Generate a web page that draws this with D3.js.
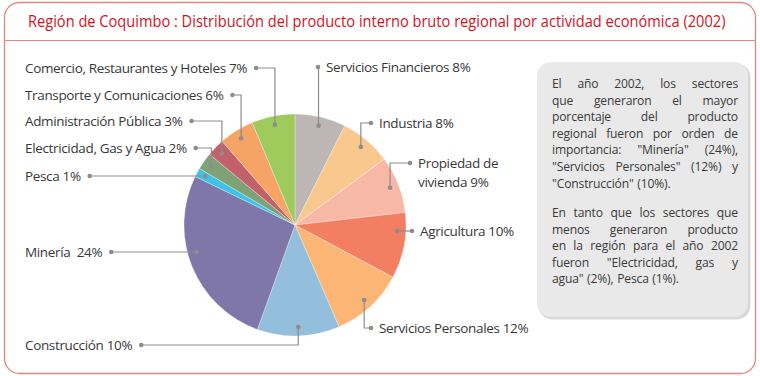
<!DOCTYPE html>
<html>
<head>
<meta charset="utf-8">
<script src="https://cdn.jsdelivr.net/npm/d3@7/dist/d3.min.js"></script>
<style>
  html, body { margin: 0; padding: 0; background: #fff; }
  svg text { font-family: "Open Sans", "Noto Sans", sans-serif; }
</style>
</head>
<body>
<svg id="chart" width="760" height="376"></svg>
<script>
// Sektoren im Uhrzeigersinn ab 12 Uhr
const sectors = [
  "Servicios Financieros", "Industria", "Propiedad de vivienda", "Agricultura",
  "Servicios Personales", "Construcción", "Minería", "Pesca",
  "Electricidad, Gas y Agua", "Administración Pública",
  "Transporte y Comunicaciones", "Comercio, Restaurantes y Hoteles"
];
// Anteile (Winkel der Sektoren)
const shares = [7.4, 7.5, 8.3, 9.6, 10.7, 12.0, 26.7, 1.3, 2.5, 2.6, 5.1, 6.3];
// Beschriftungen wie im Original
const labelLines = [
  ["Servicios Financieros 8%"], ["Industria 8%"], ["Propiedad de", "vivienda 9%"],
  ["Agricultura 10%"], ["Servicios Personales 12%"], ["Construcción 10%"],
  ["Minería  24%"], ["Pesca 1%"], ["Electricidad, Gas y Agua 2%"],
  ["Administración Pública 3%"], ["Transporte y Comunicaciones 6%"],
  ["Comercio, Restaurantes y Hoteles 7%"]
];
const colors = ["#bdb6b4", "#f9c88f", "#f8b8a6", "#f27f61", "#fbb676", "#93bfdc",
                "#7f76a9", "#3ec2ea", "#7ea276", "#c2606c", "#f6a465", "#9ecb5c"];

const titleText = "Región de Coquimbo : Distribución del producto interno bruto regional por actividad económica (2002)";
const noteParas = [
  ["El año 2002, los sectores", "que generaron el mayor", "porcentaje del producto",
   "regional fueron por orden de", "importancia: \"Minería\" (24%),",
   "\"Servicios Personales\" (12%) y", "\"Construcción\" (10%)."],
  ["En tanto que los sectores que", "menos generaron producto",
   "en la región para el año 2002", "fueron \"Electricidad, gas y",
   "agua\" (2%), Pesca (1%)."]
];

// Lage der Beschriftungen: Seite, Textposition, Art der Führungslinie
const labelLayout = [
  { side: "r", x: 326, y: 67,  mode: "v" },
  { side: "r", x: 379, y: 123, mode: "v" },
  { side: "r", x: 418, y: 163, mode: "v" },
  { side: "r", x: 420, y: 231, mode: "h" },
  { side: "r", x: 379, y: 328, mode: "v" },
  { side: "l", x: 25,  y: 345, mode: "v" },
  { side: "l", x: 25,  y: 252, mode: "h" },
  { side: "l", x: 25,  y: 176, mode: "h" },
  { side: "l", x: 25,  y: 148, mode: "v" },
  { side: "l", x: 25,  y: 121, mode: "v" },
  { side: "l", x: 25,  y: 95,  mode: "v" },
  { side: "l", x: 25,  y: 68,  mode: "v" }
];

const svg = d3.select("#chart");
const frameColor = "#e2857b";

// Rahmen
svg.append("rect")
  .attr("x", 4.5).attr("y", 2.5).attr("width", 751).attr("height", 371)
  .attr("rx", 15).attr("fill", "#fff")
  .attr("stroke", frameColor).attr("stroke-width", 1.3);
svg.append("line")
  .attr("x1", 5).attr("x2", 755).attr("y1", 40.5).attr("y2", 40.5)
  .attr("stroke", frameColor).attr("stroke-width", 1.2);

// Titel: schmal gestaucht wie im Original
const title = svg.append("text")
  .attr("x", 0).attr("y", 0)
  .attr("dominant-baseline", "central")
  .attr("font-size", 16.5)
  .attr("fill", "#d3121c")
  .text(titleText);
const tw = title.node().getComputedTextLength();
title.attr("transform", `translate(28,21) scale(${698 / tw},1)`);

// Kreisdiagramm
const cx = 295, cy = 225, r = 111;
const pie = d3.pie().sort(null).value(d => d)(shares);
const arc = d3.arc().innerRadius(0).outerRadius(r);

const g = svg.append("g").attr("transform", `translate(${cx},${cy})`);
g.selectAll("path")
  .data(pie)
  .enter()
  .append("path")
  .attr("d", arc)
  .attr("fill", (d, i) => colors[i])
  .attr("stroke", "#fff")
  .attr("stroke-opacity", 0.5)
  .attr("stroke-width", 0.6);

// Beschriftungen mit Führungslinien
const dotR = 0.92 * r;
const lab = svg.append("g");
pie.forEach((d, i) => {
  const L = labelLayout[i];
  const lineH = 19;
  const t = lab.append("text")
    .attr("x", L.x).attr("y", L.y)
    .attr("font-size", 13.5)
    .attr("letter-spacing", -0.35)
    .attr("fill", "#383838")
    .attr("dominant-baseline", "central")
    .style("white-space", "pre");
  labelLines[i].forEach((s, k) => {
    t.append("tspan").attr("x", L.x).attr("y", L.y + k * lineH).text(s);
  });
  // Punkt im Sektor
  let sx, sy;
  if (L.mode === "v") {
    const a = (d.startAngle + d.endAngle) / 2;
    sx = cx + dotR * Math.sin(a);
    sy = cy - dotR * Math.cos(a);
  } else {
    sy = L.y;
    const dx = Math.sqrt(dotR * dotR - (sy - cy) * (sy - cy));
    sx = L.side === "l" ? cx - dx : cx + dx;
  }
  // Punkt neben dem Text
  let tx;
  if (L.side === "l") {
    tx = L.x + t.node().getComputedTextLength() + 9;
  } else {
    tx = L.x - 8;
  }
  lab.append("path")
    .attr("d", `M${tx},${L.y}H${sx}V${sy}`)
    .attr("fill", "none")
    .attr("stroke", "#8d8d8d")
    .attr("stroke-width", 1.2);
  [[tx, L.y], [sx, sy]].forEach(p => {
    lab.append("circle")
      .attr("cx", p[0]).attr("cy", p[1]).attr("r", 2.3)
      .attr("fill", "#8d8d8d");
  });
});

// Textkasten rechts
svg.append("rect")
  .attr("x", 538.5).attr("y", 63.5).attr("width", 212).attr("height", 256)
  .attr("rx", 14).attr("fill", "#d9d9d9");
svg.append("rect")
  .attr("x", 537).attr("y", 62).attr("width", 211).attr("height", 255)
  .attr("rx", 14).attr("fill", "#e9e9e9");

const boxL = 552, boxR = 738, noteH = 16.6;
const paraY = [83, 212];
const note = svg.append("g")
  .attr("font-size", 12.1)
  .attr("letter-spacing", -0.15)
  .attr("fill", "#3a3a3a");

// Hilfselement zum Messen der Wortbreiten
const probe = note.append("text").attr("x", -500).attr("y", -500);
const measure = w => { probe.text(w); return probe.node().getComputedTextLength(); };

noteParas.forEach((lines, p) => {
  // ein Absatz = ein Text, Wörter als tspans im Blocksatz
  const t = note.append("text").attr("dominant-baseline", "central");
  lines.forEach((line, k) => {
    const y = paraY[p] + k * noteH;
    const words = line.split(" ");
    const last = k === lines.length - 1;
    const widths = words.map(measure);
    const total = d3.sum(widths);
    let gap = last || words.length < 2 ? 3.6 : (boxR - boxL - total) / (words.length - 1);
    gap = Math.max(gap, 2.5);
    let x = boxL;
    words.forEach((w, j) => {
      t.append("tspan").attr("x", x).attr("y", y).text(w);
      x += widths[j] + gap;
    });
  });
});
probe.remove();
</script>
</body>
</html>
